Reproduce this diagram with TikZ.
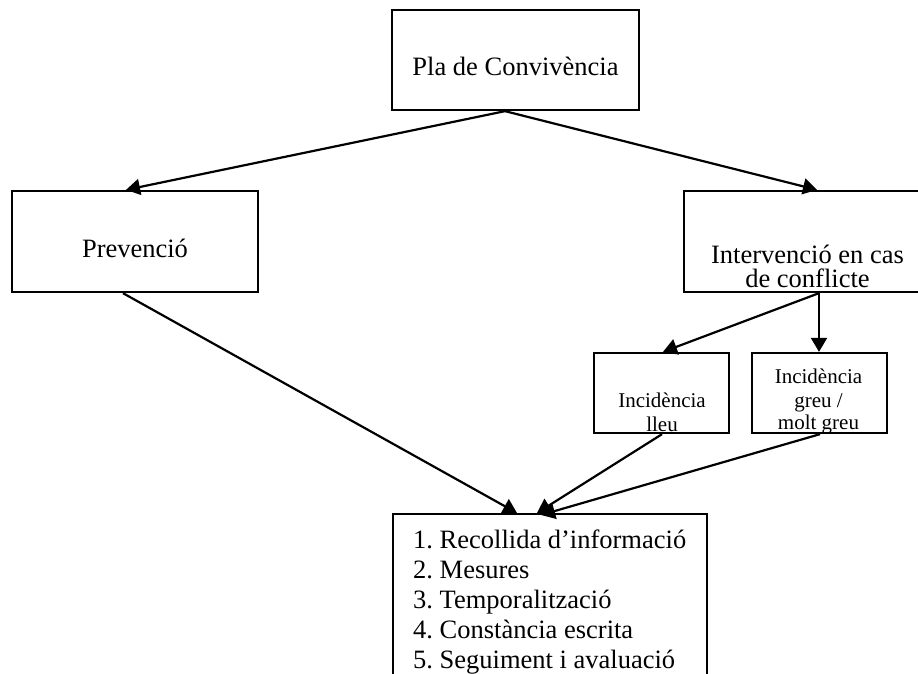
\documentclass[tikz,border=0pt]{standalone}
\usepackage{fontspec}
\setmainfont{Liberation Serif}
\usetikzlibrary{arrows.meta}
\frenchspacing
\tikzset{
  boxnode/.style={draw, line width=2.3pt, inner sep=0pt, minimum width=#1},
  txt/.style={inner sep=0pt, anchor=base, font=\fontsize{26.5}{30}\selectfont},
  stxt/.style={inner sep=0pt, anchor=base, font=\fontsize{21}{23}\selectfont},
  ltxt/.style={inner sep=0pt, anchor=base west, font=\fontsize{26.5}{30}\selectfont},
  conn/.style={line width=2.2pt, -{Triangle[length=14pt,width=16pt]}},
}
\begin{document}
\begin{tikzpicture}[x=1pt,y=-1pt]
\useasboundingbox (0,0) rectangle (918,673);
\clip (0,0) rectangle (918,673);
% boxes
\node[boxnode=247pt, minimum height=100pt] (top) at (515.5,60) {};
\node[boxnode=246pt, minimum height=101pt] (prev) at (135,241.5) {};
\node[boxnode=247pt, minimum height=101pt] (interv) at (807.5,241.5) {};
\node[boxnode=135pt, minimum height=80pt] (lleu) at (661.5,393) {};
\node[boxnode=135pt, minimum height=80pt] (greu) at (819.5,393) {};
\node[boxnode=314pt, minimum height=200pt, anchor=north] (bot) at (550,513) {};
% texts
\node[txt] (ttop) at (515.5,75) {Pla de Convivència};
\node[txt] (tprev) at (135,257) {Prevenció};
\node[txt] (tint1) at (807.5,263) {Intervenció en cas};
\node[txt] (tint2) at (807.5,287) {de conflicte};
\node[stxt] (tlleu1) at (662,407) {Incidència};
\node[stxt] (tlleu2) at (662,431) {lleu};
\node[stxt] (tgreu1) at (818.5,383) {Incidència};
\node[stxt] (tgreu2) at (818.5,407) {greu /};
\node[stxt] (tgreu3) at (818.5,429.5) {molt greu};
\node[ltxt] (l1) at (413,548) {1. Recollida d’informació};
\node[ltxt] (l2) at (413,578) {2. Mesures};
\node[ltxt] (l3) at (413,608) {3. Temporalització};
\node[ltxt] (l4) at (413,638) {4. Constància escrita};
\node[ltxt] (l5) at (413,668) {5. Seguiment i avaluació};
% connectors
\draw[conn] ([xshift=-10.5pt]top.south) -- ([xshift=-9pt]prev.north);
\draw[conn] ([xshift=-10.5pt]top.south) -- ([xshift=9.5pt]interv.north);
\draw[conn] ([xshift=11.5pt]interv.south) -- ([xshift=1.5pt]lleu.north);
\draw[conn] ([xshift=11.5pt]interv.south) -- ([xshift=-0.5pt]greu.north);
\draw[conn] ([xshift=-12pt]prev.south) -- ([xshift=-33pt]bot.north);
\draw[conn] ([xshift=0.5pt]lleu.south) -- ([xshift=-13pt]bot.north);
\draw[conn] ([xshift=0.5pt]greu.south) -- ([xshift=-9pt,yshift=-2pt]bot.north);
\end{tikzpicture}
\end{document}
